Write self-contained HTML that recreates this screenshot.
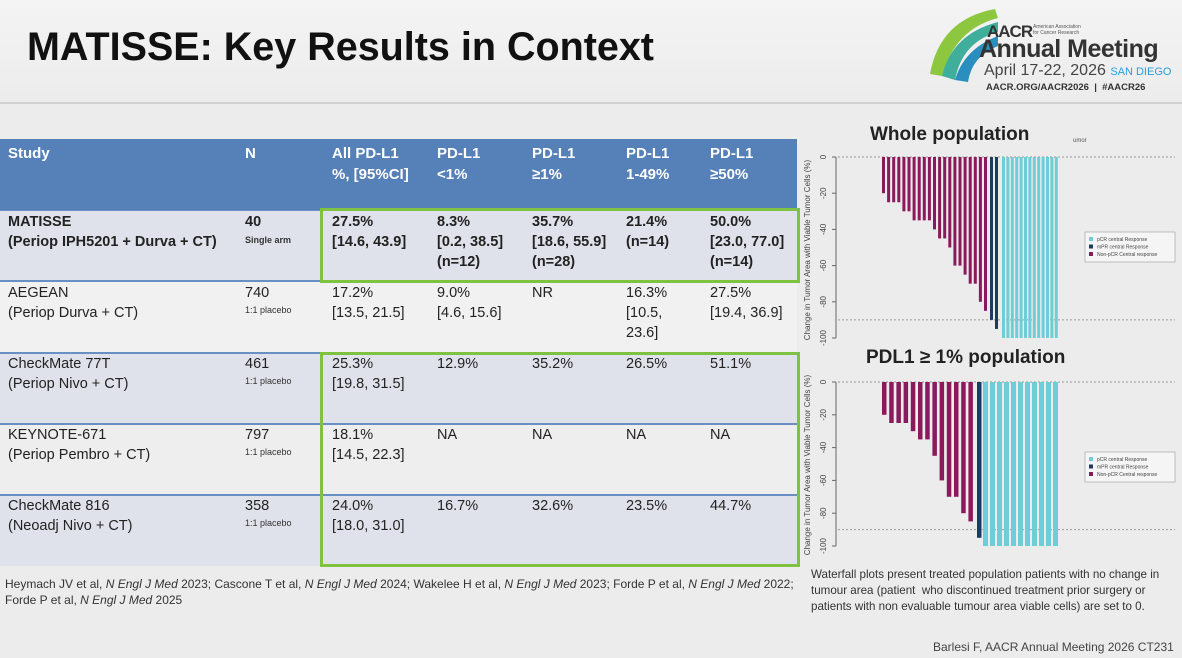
<!DOCTYPE html>
<html><head><meta charset="utf-8"><style>
body{margin:0;width:1182px;height:658px;overflow:hidden;background:#ececec;font-family:"Liberation Sans",sans-serif;position:relative}
.a{position:absolute}
.h{color:#fff;font-weight:bold;font-size:15px;line-height:21px}
.c{font-size:14.5px;line-height:20px;color:#222}
.b{font-weight:bold}
.s{font-size:9px;color:#333}
</style></head><body>
<div class="a" style="left:0;top:0;width:1182px;height:102px;background:linear-gradient(#f4f4f4,#ececec);border-bottom:2px solid #d0d0d0"></div>
<div class="a" style="left:27px;top:25px;font-size:39.5px;font-weight:bold;color:#111">MATISSE: Key Results in Context</div>
<svg class="a" style="left:920px;top:4px" width="80" height="80"><path d="M10 70 Q20 15 75 5 L78 14 Q35 25 22 72Z" fill="#8dc63f"/><path d="M22 72 Q32 30 78 18 L78 28 Q42 38 35 76Z" fill="#3fae9a"/><path d="M35 76 Q44 45 78 32 L78 42 Q52 52 48 78Z" fill="#2a8fbf"/></svg>
<div class="a" style="left:987px;top:22px;font-size:17px;font-weight:bold;color:#333;letter-spacing:-1px">AACR</div>
<div class="a" style="left:1033px;top:24px;font-size:5px;color:#555;line-height:6px">American Association<br>for Cancer Research</div>
<div class="a" style="left:979px;top:35px;font-size:25px;font-weight:bold;color:#333;letter-spacing:-0.5px">Annual Meeting</div>
<div class="a" style="left:984px;top:62px;font-size:16px;color:#444">April 17-22, 2026 <span style="font-size:11px;color:#2a9fd6">SAN DIEGO</span></div>
<div class="a" style="left:986px;top:82px;font-size:9.5px;font-weight:bold;color:#333">AACR.ORG/AACR2026 &nbsp;| &nbsp;#AACR26</div>

<div class="a" style="left:0;top:139px;width:797px;height:71px;background:#5580b8"></div>
<div class="a" style="left:0;top:210px;width:797px;height:70px;background:#dfe2ea;border-top:1px solid #6a8fc4"></div>
<div class="a" style="left:0;top:280px;width:797px;height:72px;background:#f1f1f1;border-top:2px solid #6a8fc4"></div>
<div class="a" style="left:0;top:352px;width:797px;height:71px;background:#dfe2ea;border-top:2px solid #6a8fc4"></div>
<div class="a" style="left:0;top:423px;width:797px;height:71px;background:#eeeeee;border-top:2px solid #6a8fc4"></div>
<div class="a" style="left:0;top:494px;width:797px;height:70px;background:#dfe2ea;border-top:2px solid #6a8fc4"></div>

<div class="a h" style="left:8px;top:143px">Study</div>
<div class="a h" style="left:245px;top:143px">N</div>
<div class="a h" style="left:332px;top:143px">All PD-L1<br>%, [95%CI]</div>
<div class="a h" style="left:437px;top:143px">PD-L1<br>&lt;1%</div>
<div class="a h" style="left:532px;top:143px">PD-L1<br>≥1%</div>
<div class="a h" style="left:626px;top:143px">PD-L1<br>1-49%</div>
<div class="a h" style="left:710px;top:143px">PD-L1<br>≥50%</div>

<div class="a c b" style="left:8px;top:212px">MATISSE<br>(Periop IPH5201 + Durva + CT)</div>
<div class="a c b" style="left:245px;top:212px">40</div><div class="a s b" style="left:245px;top:235px">Single arm</div>
<div class="a c b" style="left:332px;top:212px">27.5%<br>[14.6, 43.9]</div>
<div class="a c b" style="left:437px;top:212px">8.3%<br>[0.2, 38.5]<br>(n=12)</div>
<div class="a c b" style="left:532px;top:212px">35.7%<br>[18.6, 55.9]<br>(n=28)</div>
<div class="a c b" style="left:626px;top:212px">21.4%<br>(n=14)</div>
<div class="a c b" style="left:710px;top:212px">50.0%<br>[23.0, 77.0]<br>(n=14)</div>

<div class="a c" style="left:8px;top:283px">AEGEAN<br>(Periop Durva + CT)</div>
<div class="a c" style="left:245px;top:283px">740</div><div class="a s" style="left:245px;top:305px">1:1 placebo</div>
<div class="a c" style="left:332px;top:283px">17.2%<br>[13.5, 21.5]</div>
<div class="a c" style="left:437px;top:283px">9.0%<br>[4.6, 15.6]</div>
<div class="a c" style="left:532px;top:283px">NR</div>
<div class="a c" style="left:626px;top:283px">16.3%<br>[10.5,<br>23.6]</div>
<div class="a c" style="left:710px;top:283px">27.5%<br>[19.4, 36.9]</div>

<div class="a c" style="left:8px;top:354px">CheckMate 77T<br>(Periop Nivo + CT)</div>
<div class="a c" style="left:245px;top:354px">461</div><div class="a s" style="left:245px;top:376px">1:1 placebo</div>
<div class="a c" style="left:332px;top:354px">25.3%<br>[19.8, 31.5]</div>
<div class="a c" style="left:437px;top:354px">12.9%</div>
<div class="a c" style="left:532px;top:354px">35.2%</div>
<div class="a c" style="left:626px;top:354px">26.5%</div>
<div class="a c" style="left:710px;top:354px">51.1%</div>

<div class="a c" style="left:8px;top:425px">KEYNOTE-671<br>(Periop Pembro + CT)</div>
<div class="a c" style="left:245px;top:425px">797</div><div class="a s" style="left:245px;top:447px">1:1 placebo</div>
<div class="a c" style="left:332px;top:425px">18.1%<br>[14.5, 22.3]</div>
<div class="a c" style="left:437px;top:425px">NA</div>
<div class="a c" style="left:532px;top:425px">NA</div>
<div class="a c" style="left:626px;top:425px">NA</div>
<div class="a c" style="left:710px;top:425px">NA</div>

<div class="a c" style="left:8px;top:496px">CheckMate 816<br>(Neoadj Nivo + CT)</div>
<div class="a c" style="left:245px;top:496px">358</div><div class="a s" style="left:245px;top:518px">1:1 placebo</div>
<div class="a c" style="left:332px;top:496px">24.0%<br>[18.0, 31.0]</div>
<div class="a c" style="left:437px;top:496px">16.7%</div>
<div class="a c" style="left:532px;top:496px">32.6%</div>
<div class="a c" style="left:626px;top:496px">23.5%</div>
<div class="a c" style="left:710px;top:496px">44.7%</div>

<div class="a" style="left:320px;top:208px;width:474px;height:69px;border:3px solid #7fc241"></div>
<div class="a" style="left:320px;top:352px;width:474px;height:209px;border:3px solid #7fc241"></div>

<div class="a" style="left:5px;top:576px;font-size:12px;line-height:16px;color:#333;width:792px">Heymach JV et al, <i>N Engl J Med</i> 2023; Cascone T et al, <i>N Engl J Med</i> 2024; Wakelee H et al, <i>N Engl J Med</i> 2023; Forde P et al, <i>N Engl J Med</i> 2022; Forde P et al, <i>N Engl J Med</i> 2025</div>
<div class="a" style="left:811px;top:567px;font-size:11.6px;line-height:16px;color:#333;width:352px">Waterfall plots present treated population patients with no change in tumour area (patient &nbsp;who discontinued treatment prior surgery or patients with non evaluable tumour area viable cells) are set to 0.</div>
<div class="a" style="left:933px;top:640px;font-size:12px;color:#444">Barlesi F, AACR Annual Meeting 2026 CT231</div>

<div class="a" style="left:870px;top:124px;font-size:19px;font-weight:bold;color:#222">Whole population</div>
<div class="a" style="left:1073px;top:138px;font-size:6px;color:#555">umor</div>
<div class="a" style="left:866px;top:347px;font-size:19px;font-weight:bold;color:#222">PDL1 ≥ 1% population</div>
<svg id="sv" class="a" style="left:0;top:0" width="1182" height="658"></svg>
<script>
var s='';
function t(x,y,txt){s+='<text x="'+x+'" y="'+y+'" font-size="8" fill="#444" text-anchor="middle" font-family="Liberation Sans" transform="rotate(-90 '+x+' '+y+')">'+txt+'</text>';}
function chart(y0,sc,mag,dark,mx,mstep,mw,dx,dstep,cx,cstep,cn,cw){
 s+='<line x1="836" y1="'+y0+'" x2="836" y2="'+(y0+100*sc)+'" stroke="#666"/>';
 for(var v=0;v<=100;v+=20){var y=y0+v*sc;s+='<line x1="832" y1="'+y+'" x2="836" y2="'+y+'" stroke="#666"/>';t(826,y,v?'-'+v:'0');}
 s+='<line x1="838" y1="'+y0+'" x2="1175" y2="'+y0+'" stroke="#999" stroke-dasharray="2,2"/>';
 s+='<line x1="838" y1="'+(y0+90*sc)+'" x2="1175" y2="'+(y0+90*sc)+'" stroke="#999" stroke-dasharray="2,2"/>';
 mag.forEach(function(v,i){s+='<rect x="'+(mx+i*mstep)+'" y="'+y0+'" width="'+mw+'" height="'+v*sc+'" fill="#8b1a5c"/>';});
 dark.forEach(function(v,i){s+='<rect x="'+(dx+i*dstep)+'" y="'+y0+'" width="'+mw+'" height="'+v*sc+'" fill="#1c3b5e"/>';});
 for(var i=0;i<cn;i++)s+='<rect x="'+(cx+i*cstep)+'" y="'+y0+'" width="'+cw+'" height="'+100*sc+'" fill="#6fcdd8"/>';
 var ly=y0+(y0<200?75:70);
 s+='<rect x="1085" y="'+ly+'" width="90" height="30" fill="#f5f5f5" stroke="#999" stroke-width="0.6"/>';
 var L=[['#6fcdd8','pCR central Response'],['#1c3b5e','mPR central Response'],['#8b1a5c','Non-pCR Central response']];
 L.forEach(function(l,i){s+='<rect x="1089" y="'+(ly+5+i*7.5)+'" width="4" height="4" fill="'+l[0]+'"/><text x="1097" y="'+(ly+9+i*7.5)+'" font-size="5" fill="#444" font-family="Liberation Sans">'+l[1]+'</text>';});
}
chart(157,1.81,[20,25,25,25,30,30,35,35,35,35,40,45,45,50,60,60,65,70,70,80,85],[90,95],882,5.1,3,990,5,1002,4.4,13,3);
chart(382,1.64,[20,25,25,25,30,35,35,45,60,70,70,80,85],[95],882,7.2,4.5,977,0,983,7,11,5);
s+='<text transform="rotate(-90 810 250)" x="810" y="250" font-size="8" fill="#444" text-anchor="middle" font-family="Liberation Sans">Change in Tumor Area with Viable Tumor Cells (%)</text>';
s+='<text transform="rotate(-90 810 465)" x="810" y="465" font-size="8" fill="#444" text-anchor="middle" font-family="Liberation Sans">Change in Tumor Area with Viable Tumor Cells (%)</text>';
document.getElementById('sv').innerHTML=s;
</script>
</body></html>
